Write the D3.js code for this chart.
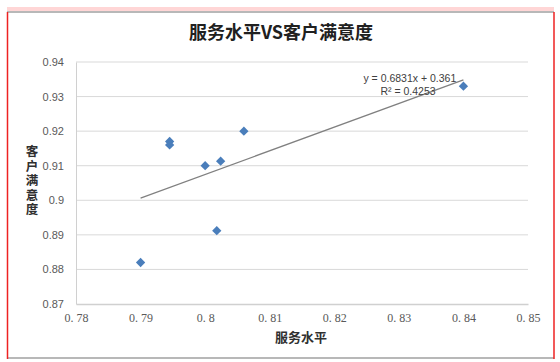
<!DOCTYPE html>
<html>
<head>
<meta charset="utf-8">
<script src="https://cdn.jsdelivr.net/npm/d3@7"></script>
<style>
  body { margin: 0; background: #fff; }
  text { font-family: "Liberation Sans", "Noto Sans CJK SC", sans-serif; }
</style>
</head>
<body>
<div class="scatter"></div>
<script>
var svgWidth = 560;
var svgHeight = 362;

// data
var serviceLevel = [0.79, 0.7945, 0.7945, 0.80, 0.8024, 0.8018, 0.806, 0.84];
var satisfaction = [0.882, 0.917, 0.916, 0.910, 0.9113, 0.8912, 0.920, 0.933];
var xTicks = [0.78, 0.79, 0.80, 0.81, 0.82, 0.83, 0.84, 0.85];
var xTickLabels = ["0. 78", "0. 79", "0. 8", "0. 81", "0. 82", "0. 83", "0. 84", "0. 85"];
var yTicks = [0.87, 0.88, 0.89, 0.90, 0.91, 0.92, 0.93, 0.94];
var yTickLabels = ["0.87", "0.88", "0.89", "0.9", "0.91", "0.92", "0.93", "0.94"];
var slope = 0.6831, intercept = 0.361;

var margin = { top: 62, right: 32, bottom: 58, left: 76 };
var width = 528 - margin.left;
var height = 304 - margin.top;

var svg = d3.select(".scatter")
  .append("svg")
  .attr("width", svgWidth)
  .attr("height", svgHeight);

// outer frame
svg.append("rect").attr("x", 7).attr("y", 7).attr("width", 547).attr("height", 4).attr("fill", "#ffd6d6");
svg.append("line").attr("x1", 7).attr("x2", 554).attr("y1", 12).attr("y2", 12).attr("stroke", "#a0a0a0").attr("stroke-width", 1.5);
svg.append("line").attr("x1", 7).attr("x2", 554).attr("y1", 358).attr("y2", 358).attr("stroke", "#a0a0a0").attr("stroke-width", 1.5);
svg.append("line").attr("x1", 7.5).attr("x2", 7.5).attr("y1", 12).attr("y2", 359).attr("stroke", "#ee2222").attr("stroke-width", 1.5);
svg.append("line").attr("x1", 554).attr("x2", 554).attr("y1", 12).attr("y2", 359).attr("stroke", "#ee2222").attr("stroke-width", 1.5);

var chartGroup = svg.append("g")
  .attr("transform", `translate(${margin.left}, ${margin.top})`);

var xScale = d3.scaleLinear().domain([0.78, 0.85]).range([0, width]);
var yScale = d3.scaleLinear().domain([0.87, 0.94]).range([height, 0]);

// gridlines
chartGroup.selectAll(".grid")
  .data(yTicks.slice(1))
  .enter()
  .append("line")
  .attr("x1", 0)
  .attr("x2", width)
  .attr("y1", d => yScale(d))
  .attr("y2", d => yScale(d))
  .attr("stroke", "#d9d9d9")
  .attr("stroke-width", 1);

var bottomAxis = d3.axisBottom(xScale)
  .tickValues(xTicks)
  .tickSize(0)
  .tickPadding(9)
  .tickFormat((d, i) => xTickLabels[i]);
var leftAxis = d3.axisLeft(yScale)
  .tickValues(yTicks)
  .tickSize(0)
  .tickPadding(12)
  .tickFormat((d, i) => yTickLabels[i]);

var xAxisG = chartGroup.append("g")
  .attr("transform", `translate(0, ${height})`)
  .call(bottomAxis);
xAxisG.select(".domain").attr("stroke", "#d0d0d0").attr("stroke-width", 1.5);
xAxisG.selectAll("text")
  .attr("fill", "#595959")
  .style("font-family", "'Liberation Serif', serif")
  .style("font-size", "12px");

var yAxisG = chartGroup.append("g").call(leftAxis);
yAxisG.select(".domain").attr("stroke", "#d0d0d0").attr("stroke-width", 1);
yAxisG.selectAll("text")
  .attr("fill", "#595959")
  .style("font-size", "11px");

// trendline
chartGroup.append("line")
  .attr("x1", xScale(0.79))
  .attr("y1", yScale(slope * 0.79 + intercept))
  .attr("x2", xScale(0.84))
  .attr("y2", yScale(slope * 0.84 + intercept))
  .attr("stroke", "#808080")
  .attr("stroke-width", 1.3);

// points
chartGroup.selectAll(".pt")
  .data(serviceLevel)
  .enter()
  .append("path")
  .attr("d", d3.symbol().type(d3.symbolDiamond2).size(55))
  .attr("transform", (d, i) => `translate(${xScale(d)}, ${yScale(satisfaction[i])})`)
  .attr("fill", "#4a7ebb");

// equation labels
chartGroup.append("text")
  .attr("x", xScale(0.8225) + 13)
  .attr("y", 20)
  .attr("font-size", "10.5px")
  .attr("fill", "#404040")
  .text("y = 0.6831x + 0.361");
chartGroup.append("text")
  .attr("x", xScale(0.8225) + 30)
  .attr("y", 33)
  .attr("font-size", "10.5px")
  .attr("fill", "#404040")
  .text("R² = 0.4253");

// titles
svg.append("text")
  .attr("x", 281)
  .attr("y", 39)
  .attr("text-anchor", "middle")
  .style("font-family", "'Noto Sans CJK SC', sans-serif")
  .style("font-size", "18px")
  .style("font-weight", "bold")
  .attr("fill", "#202020")
  .text("服务水平VS客户满意度");

svg.append("text")
  .attr("x", 301)
  .attr("y", 342)
  .attr("text-anchor", "middle")
  .style("font-family", "'Noto Sans CJK SC', serif")
  .style("font-size", "13px")
  .style("font-weight", "bold")
  .attr("fill", "#303030")
  .text("服务水平");

// vertical y-axis title, one text element
svg.append("text")
  .attr("x", 32)
  .attr("y", 145)
  .style("writing-mode", "vertical-rl")
  .style("text-orientation", "upright")
  .style("letter-spacing", "2px")
  .style("font-family", "'Noto Sans CJK SC', serif")
  .style("font-size", "12.5px")
  .style("font-weight", "bold")
  .attr("fill", "#303030")
  .text("客户满意度");
</script>
</body>
</html>
